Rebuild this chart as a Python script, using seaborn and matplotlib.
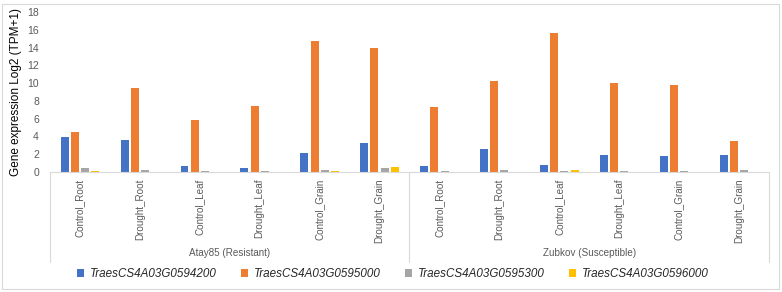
import numpy as np
import pandas as pd
import matplotlib
matplotlib.use("Agg")
import matplotlib.pyplot as plt
import matplotlib.transforms as mtransforms
from matplotlib.patches import Rectangle
import seaborn as sns

# data
cultivars = ["Atay85 (Resistant)", "Zubkov (Susceptible)"]
conditions = ["Control_Root", "Drought_Root", "Control_Leaf",
              "Drought_Leaf", "Control_Grain", "Drought_Grain"]
genes = ["TraesCS4A03G0594200", "TraesCS4A03G0595000",
         "TraesCS4A03G0595300", "TraesCS4A03G0596000"]

g0594200 = [3.9, 3.63, 0.7, 0.45, 2.13, 3.26,
            0.63, 2.59, 0.74, 1.95, 1.76, 1.87]
g0595000 = [4.45, 9.5, 5.9, 7.45, 14.77, 13.9,
            7.3, 10.27, 15.67, 9.97, 9.82, 3.52]
g0595300 = [0.49, 0.22, 0.1, 0.1, 0.26, 0.49,
            0.15, 0.26, 0.15, 0.15, 0.1, 0.26]
g0596000 = [0.15, 0.0, 0.0, 0.0, 0.12, 0.55,
            0.0, 0.0, 0.26, 0.0, 0.0, 0.0]

colors = ["#4472C4", "#ED7D31", "#A5A5A5", "#FFC000"]

# long table for seaborn
keys = [f"{c}|{s}" for c in cultivars for s in conditions]
rows = []
for gene, vals in zip(genes, [g0594200, g0595000, g0595300, g0596000]):
    for k, v in zip(keys, vals):
        rows.append({"sample": k, "gene": gene, "value": v})
df = pd.DataFrame(rows)

sns.set_style("white")
plt.rcParams["font.family"] = ["Liberation Sans", "DejaVu Sans"]

fig = plt.figure(figsize=(7.82, 2.92), dpi=100)
ax = fig.add_axes([50 / 782, 1 - 172 / 292, 719 / 782, 160 / 292])

sns.barplot(data=df, x="sample", y="value", hue="gene", order=keys,
            hue_order=genes, palette=colors, saturation=1, width=0.68,
            gap=0.22, linewidth=0, ax=ax, legend=True)

ax.set_ylim(0, 18)
ax.set_yticks(np.arange(0, 19, 2))
ax.set_xlim(-0.5, len(keys) - 0.5)
ax.tick_params(axis="y", length=0, labelsize=7.5, colors="#595959", pad=8)
ax.tick_params(axis="x", length=0, labelsize=7.1, colors="#595959", pad=5)
ax.set_xticks(range(len(keys)))
ax.set_xticklabels(conditions * 2, rotation=90)
ax.set_xlabel("")
ax.set_ylabel("Gene expression Log2 (TPM+1)", fontsize=8.5, color="black",
              labelpad=4)

for side in ["top", "right", "left"]:
    ax.spines[side].set_visible(False)
ax.spines["bottom"].set_color("#D9D9D9")
ax.spines["bottom"].set_linewidth(0.8)

# multi-level category axis: group separators and cultivar names
trans = mtransforms.blended_transform_factory(ax.transData, ax.transAxes)
for xb in [-0.5, 5.5, 11.5]:
    ax.plot([xb, xb], [0, -90 / 160], transform=trans, color="#D9D9D9",
            lw=0.8, clip_on=False)
for i, cv in enumerate(cultivars):
    ax.text(2.5 + 6 * i, -81 / 160, cv, transform=trans, ha="center",
            va="center", fontsize=7.1, color="#595959")

# legend along the bottom
handles, labels = ax.get_legend_handles_labels()
ax.get_legend().remove()
fig.legend(handles, labels, loc="center", bbox_to_anchor=(393 / 782, 1 - 274 / 292),
           ncol=4, frameon=False, handlelength=0.6, handleheight=0.6,
           handletextpad=0.5, columnspacing=2.1,
           prop={"style": "italic", "size": 8.4})

# light chart border
fig.patches.append(Rectangle((2 / 782, 3 / 292), 777 / 782, 285 / 292,
                             transform=fig.transFigure, fill=False,
                             edgecolor="#D9D9D9", lw=0.8))

fig.savefig("out.png", dpi=100)
